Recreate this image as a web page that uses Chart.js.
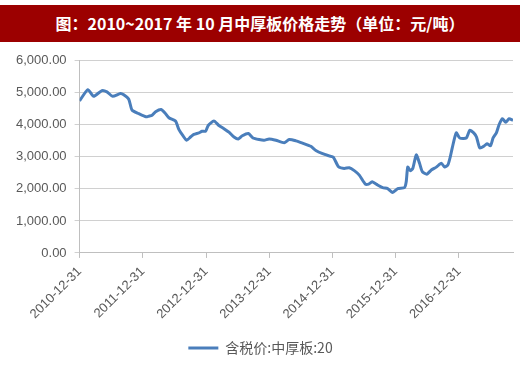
<!DOCTYPE html>
<html>
<head>
<meta charset="utf-8">
<script src="https://cdn.jsdelivr.net/npm/chart.js@4"></script>
<style>
  html, body { margin: 0; padding: 0; background: #fff; }
  body { width: 520px; height: 365px; position: relative; overflow: hidden; }
  #title {
    position: absolute; left: 0; top: 5px; width: 520px; height: 37px;
    background: #9c0000; color: #fff;
    font: bold 16px "Noto Sans CJK SC", sans-serif;
    line-height: 37px; text-align: center;
  }
  #wrap { position: absolute; left: 0; top: 45px; width: 520px; height: 320px; }
</style>
</head>
<body>
<div id="title">图：2010~2017 年 10 月中厚板价格走势（单位：元/吨）</div>
<div id="wrap"><canvas id="chart"></canvas></div>
<script>
// dates, with the price at each one
const dates = [
  '2010-12-31','2011-02-17','2011-03-22','2011-05-09','2011-06-07','2011-07-10','2011-08-24','2011-09-12',
  '2011-10-11','2011-10-30','2011-12-08','2012-01-19','2012-02-04','2012-02-23','2012-03-14','2012-04-15',
  '2012-05-06','2012-05-30','2012-07-07','2012-07-27','2012-08-19','2012-09-09','2012-10-02','2012-10-21',
  '2012-11-19','2012-12-08','2012-12-28','2013-01-12','2013-02-14','2013-03-15','2013-04-13','2013-05-12',
  '2013-06-10','2013-07-05','2013-07-28','2013-09-01','2013-09-28','2013-11-02','2013-12-01','2013-12-30',
  '2014-02-07','2014-03-27','2014-04-25','2014-06-03','2014-07-11','2014-08-28','2014-09-26','2014-11-04',
  '2014-12-12','2015-01-05','2015-02-04','2015-03-09','2015-04-07','2015-05-06','2015-06-04','2015-07-09',
  '2015-07-28','2015-08-17','2015-09-18','2015-10-17','2015-11-15','2015-12-14','2016-01-12','2016-02-20',
  '2016-03-01','2016-03-10','2016-03-24','2016-04-08','2016-04-28','2016-05-17','2016-06-02','2016-06-28',
  '2016-07-24','2016-08-22','2016-09-20','2016-10-09','2016-10-28','2016-11-11','2016-11-22','2016-12-15',
  '2017-01-04','2017-02-11','2017-03-03','2017-03-26','2017-04-11','2017-04-30','2017-05-23','2017-06-11',
  '2017-07-01','2017-07-16','2017-08-04','2017-08-20','2017-09-08','2017-09-27','2017-10-16','2017-11-08'
];
const prices = [
  4750, 5100, 4890, 5070, 5030, 4890, 4980, 4940,
  4800, 4460, 4350, 4250, 4270, 4300, 4410, 4480,
  4380, 4220, 4120, 3850, 3660, 3520, 3620, 3700,
  3750, 3800, 3800, 3980, 4120, 3980, 3880, 3770,
  3620, 3560, 3660, 3730, 3590, 3540, 3520, 3560,
  3520, 3440, 3540, 3500, 3430, 3330, 3200, 3100,
  3030, 2990, 2690, 2640, 2660, 2570, 2430, 2150,
  2150, 2220, 2120, 2040, 2010, 1890, 2010, 2040,
  2220, 2680, 2570, 2640, 3060, 2800, 2540, 2460,
  2590, 2680, 2800, 2680, 2750, 3010, 3280, 3750,
  3590, 3590, 3830, 3750, 3620, 3280, 3330, 3410,
  3350, 3590, 3750, 4010, 4190, 4080, 4190, 4140
];
const tickLabels = ['2010-12-31','2011-12-31','2012-12-31','2013-12-31','2014-12-31','2015-12-31','2016-12-31'];
const seriesName = '含税价:中厚板:20';

const toMs = s => { const p = s.split('-'); return Date.UTC(+p[0], +p[1] - 1, +p[2]); };
const fmt = v => v.toLocaleString('en-US', { minimumFractionDigits: 2, maximumFractionDigits: 2 });

let ctx = document.getElementById('chart').getContext('2d');
const grey = '#595959';
const axisFont = { family: '"Liberation Sans", sans-serif', size: 13 };

new Chart(ctx, {
  type: 'line',
  data: {
    datasets: [{
      label: seriesName,
      data: dates.map((d, i) => ({ x: toMs(d), y: prices[i] })),
      borderColor: '#4a7ebb',
      backgroundColor: '#4a7ebb',
      borderWidth: 3,
      pointRadius: 0,
      tension: 0.2,
      pointStyle: 'line'
    }]
  },
  options: {
    responsive: true,
    maintainAspectRatio: false,
    animation: false,
    layout: { padding: { left: 8, right: 7, top: 12, bottom: 0 } },
    scales: {
      x: {
        type: 'linear',
        min: toMs(dates[0]),
        max: toMs(dates[dates.length - 1]),
        afterBuildTicks: axis => { axis.ticks = tickLabels.map(t => ({ value: toMs(t) })); },
        ticks: {
          autoSkip: false,
          minRotation: 45,
          maxRotation: 45,
          color: grey,
          font: axisFont,
          padding: 6,
          callback: (v, i) => tickLabels[i]
        },
        grid: { drawOnChartArea: false, tickLength: 5, color: '#bfbfbf' },
        border: { color: '#bfbfbf' }
      },
      y: {
        min: 0,
        max: 6000,
        ticks: { stepSize: 1000, color: grey, font: axisFont, padding: 8, callback: v => fmt(v) },
        grid: { color: '#d0d0d0', tickLength: 5 },
        border: { color: '#bfbfbf' }
      }
    },
    plugins: {
      legend: {
        position: 'bottom',
        labels: {
          usePointStyle: true,
          pointStyleWidth: 30,
          color: grey,
          font: { family: '"Noto Sans CJK SC", sans-serif', size: 14 },
          padding: 13
        }
      },
      tooltip: { enabled: false }
    }
  }
});
</script>
</body>
</html>
